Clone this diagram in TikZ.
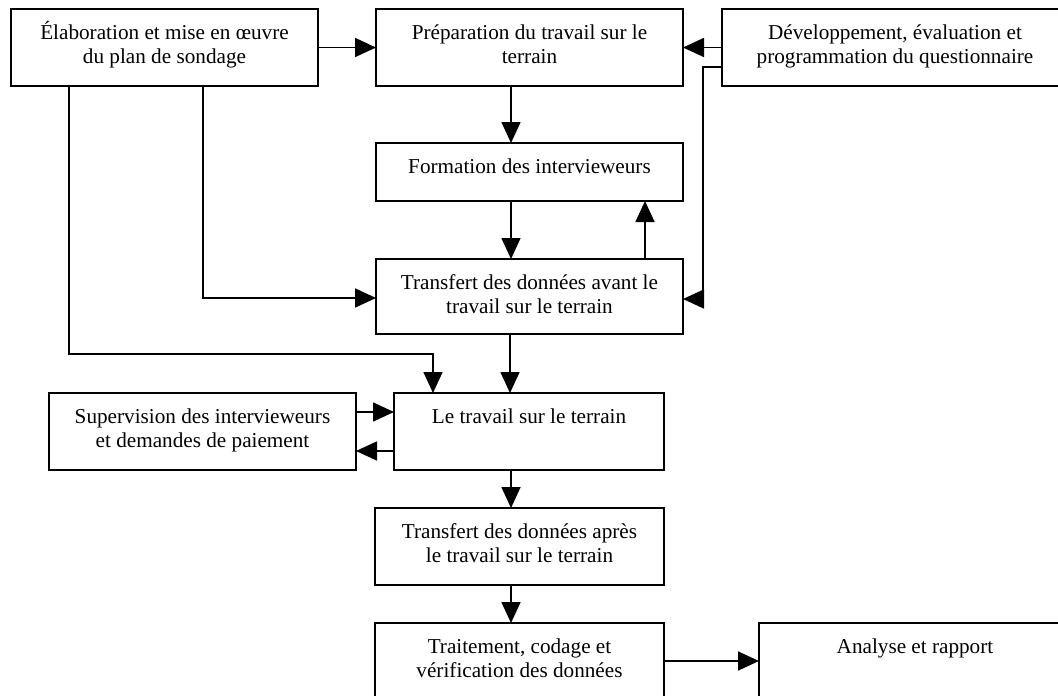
\documentclass[tikz,border=0pt]{standalone}
\usepackage{fontspec}
\setmainfont{Liberation Serif}
\usetikzlibrary{arrows.meta}
\tikzset{
  box/.style={draw, line width=2.4pt, inner sep=0pt, outer sep=0pt, anchor=north west,
    font=\fontsize{21.2}{24}\selectfont},
  conn/.style={line width=1.7pt, -{Triangle[length=21pt,width=19pt]}},
}
\newcommand{\boxtext}[3]{\parbox[t][#1pt][t]{#2pt}{\centering\rule{0pt}{30pt}#3}}
\begin{document}
\begin{tikzpicture}[x=1pt,y=-1pt]
\useasboundingbox (0,0) rectangle (1058,696);
\clip (0,0) rectangle (1058,696);
\node[box] (A) at (11,9) {\boxtext{77}{307}{Élaboration et mise en œuvre\\du plan de sondage}};
\node[box] (B) at (376,9) {\boxtext{77}{307}{Préparation du travail sur le\\terrain}};
\node[box] (C) at (722,9) {\boxtext{77}{346}{Développement, évaluation et\\programmation du questionnaire}};
\node[box] (D) at (376,143) {\boxtext{58}{307}{Formation des intervieweurs}};
\node[box] (E) at (376,259) {\boxtext{75}{307}{Transfert des données avant le\\travail sur le terrain}};
\node[box] (S) at (49,393) {\boxtext{77}{307}{Supervision des intervieweurs\\et demandes de paiement}};
\node[box] (F) at (394,393) {\boxtext{77}{270}{Le travail sur le terrain}};
\node[box] (G) at (375,508) {\boxtext{77}{289}{Transfert des données après\\le travail sur le terrain}};
\node[box] (H) at (375,623) {\boxtext{100}{289}{Traitement, codage et\\vérification des données}};
\node[box] (I) at (759,623) {\boxtext{100}{312}{Analyse et rapport}};
% connectors
\draw[conn] (A.east) -- (B.west);
\draw[conn] (C.west) -- (B.east);
\draw[conn] (C.west |- 0,67) -- (703,67) |- (E.east |- 0,299);
\draw[conn] (B.south -| 511,0) -- (D.north -| 511,0);
\draw[conn] (D.south -| 511,0) -- (E.north -| 511,0);
\draw[conn] (E.north -| 645,0) -- (D.south -| 645,0);
\draw[conn] (A.south -| 203,0) -- (203,298) -- (E.west |- 0,298);
\draw[conn] (A.south -| 69,0) -- (69,354) -| (F.north -| 433,0);
\draw[conn] (E.south -| 510,0) -- (F.north -| 510,0);
\draw[conn] (S.east |- 0,412) -- (F.west |- 0,412);
\draw[conn] (F.west |- 0,451) -- (S.east |- 0,451);
\draw[conn] (F.south -| 511,0) -- (G.north -| 511,0);
\draw[conn] (G.south -| 511,0) -- (H.north -| 511,0);
\draw[conn] (H.east |- 0,661) -- (I.west |- 0,661);
\end{tikzpicture}
\end{document}
